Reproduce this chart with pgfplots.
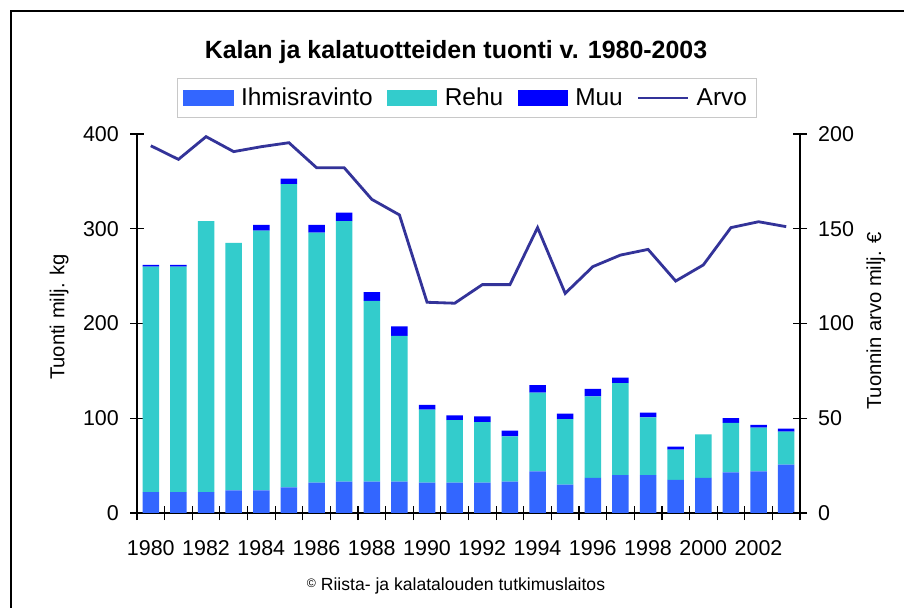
\documentclass[border=0pt]{standalone}
\usepackage{fontspec}
\setmainfont{Liberation Sans}
\usepackage{pgfplots}
\pgfplotsset{compat=1.18}
\definecolor{cI}{HTML}{3366FF}
\definecolor{cR}{HTML}{33CCCC}
\definecolor{cM}{HTML}{0000FF}
\definecolor{cA}{HTML}{333399}
\definecolor{legframe}{HTML}{C8C8C8}

\begin{document}
\begin{tikzpicture}
\useasboundingbox (0,0) rectangle (18.08,12.16);
\fill[white] (0,0) rectangle (18.08,12.16);
% outer chart frame (only top and left visible)
\draw[black, line width=0.04cm] (0.22,-0.1) -- (0.22,11.94) -- (18.3,11.94);

\node[font=\fontsize{14.2}{17}\selectfont\bfseries] at (9.12,11.12) {Kalan ja kalatuotteiden tuonti v. 1980-2003};
\node[font=\fontsize{10}{12}\selectfont] at (9.12,0.44) {\raisebox{0.35ex}{\scriptsize ©} Riista- ja kalatalouden tutkimuslaitos};

\begin{axis}[
    at={(2.74cm,1.90cm)}, anchor=south west,
    width=13.26cm, height=7.58cm, scale only axis,
    ybar stacked, bar width=0.33cm,
    xmin=-0.5, xmax=23.5, ymin=0, ymax=400,
    axis y line*=left, axis x line*=bottom,
    axis line style={black, line width=0.7pt},
    tick style={black, line width=0.7pt},
    tick align=center, major tick length=0.28cm,
    xtick={-0.5,0.5,...,23.5}, xticklabels={},
    extra x ticks={0,2,...,22},
    extra x tick labels={1980,1982,1984,1986,1988,1990,1992,1994,1996,1998,2000,2002},
    extra x tick style={major tick length=0pt},
    xticklabel style={font=\fontsize{12.2}{14}\selectfont, yshift=-0.42cm},
    ytick={0,100,...,400},
    yticklabel style={font=\fontsize{12.2}{14}\selectfont, xshift=-0.1cm},
    /pgf/number format/assume math mode=true,
    ylabel={Tuonti milj. kg},
    ylabel style={font=\fontsize{11.5}{14}\selectfont, at={(axis description cs:-0.1176,0.517)}, anchor=center},
    legend columns=4,
    legend style={at={(axis description cs:0.4977,1.1478)}, anchor=north,
        draw=legframe, line width=0.6pt, font=\fontsize{13.9}{16}\selectfont,
        inner xsep=0.12cm, inner ysep=0.12cm,
        /tikz/every odd column/.append style={column sep=0.08cm},
        /tikz/every even column/.append style={column sep=0.22cm}},
]
\addlegendimage{legend image code/.code={\fill[cI] (0cm,-0.15cm) rectangle (0.98cm,0.15cm);}}
\addlegendentry{Ihmisravinto}
\addlegendimage{legend image code/.code={\fill[cR] (0cm,-0.15cm) rectangle (0.98cm,0.15cm);}}
\addlegendentry{Rehu}
\addlegendimage{legend image code/.code={\fill[cM] (0cm,-0.15cm) rectangle (0.98cm,0.15cm);}}
\addlegendentry{Muu}
\addlegendimage{legend image code/.code={\draw[cA, line width=1.1pt] (0cm,0cm) -- (1.0cm,0cm);}}
\addlegendentry{Arvo}
% Ihmisravinto
\addplot[fill=cI, draw=none, forget plot] coordinates {
 (0,22)(1,22)(2,22)(3,24)(4,24)(5,27)(6,32)(7,33)(8,33)(9,33)(10,32)(11,32)
 (12,32)(13,33)(14,44)(15,30)(16,37)(17,40)(18,40)(19,35)(20,37)(21,43)(22,44)(23,51)
};
% Rehu
\addplot[fill=cR, draw=none, forget plot] coordinates {
 (0,238)(1,238)(2,286)(3,261)(4,274)(5,320)(6,264)(7,275)(8,191)(9,154)(10,77)(11,66)
 (12,64)(13,48)(14,83)(15,69)(16,86)(17,97)(18,61)(19,32)(20,46)(21,52)(22,46)(23,35)
};
% Muu
\addplot[fill=cM, draw=none, forget plot] coordinates {
 (0,2)(1,2)(2,0)(3,0)(4,6)(5,6)(6,8)(7,9)(8,9)(9,10)(10,5)(11,5)
 (12,6)(13,6)(14,8)(15,6)(16,8)(17,6)(18,5)(19,3)(20,0)(21,5)(22,3)(23,3)
};
\end{axis}

\begin{axis}[
    at={(2.74cm,1.90cm)}, anchor=south west,
    width=13.26cm, height=7.58cm, scale only axis,
    xmin=-0.5, xmax=23.5, ymin=0, ymax=200,
    axis y line*=right, axis x line=none,
    axis line style={black, line width=0.7pt},
    tick style={black, line width=0.7pt},
    tick align=center, major tick length=0.28cm,
    ytick={0,50,...,200},
    yticklabel style={font=\fontsize{12.2}{14}\selectfont, xshift=0.1cm},
    /pgf/number format/assume math mode=true,
    ylabel={Tuonnin arvo milj. €},
    ylabel style={font=\fontsize{11.5}{14}\selectfont, at={(axis description cs:1.1146,0.5066)}, anchor=center},
]
% Arvo
\addplot[cA, line width=1.6pt, mark=none] coordinates {
 (0,193.8)(1,186.6)(2,198.6)(3,190.7)(4,193.3)(5,195.4)(6,182.2)(7,182.2)
 (8,165.5)(9,157.3)(10,111.2)(11,110.7)(12,120.5)(13,120.5)(14,150.6)(15,115.9)
 (16,130.0)(17,136.1)(18,139.1)(19,122.4)(20,130.9)(21,150.6)(22,153.7)(23,151.1)
};
\end{axis}
\end{tikzpicture}
\end{document}
